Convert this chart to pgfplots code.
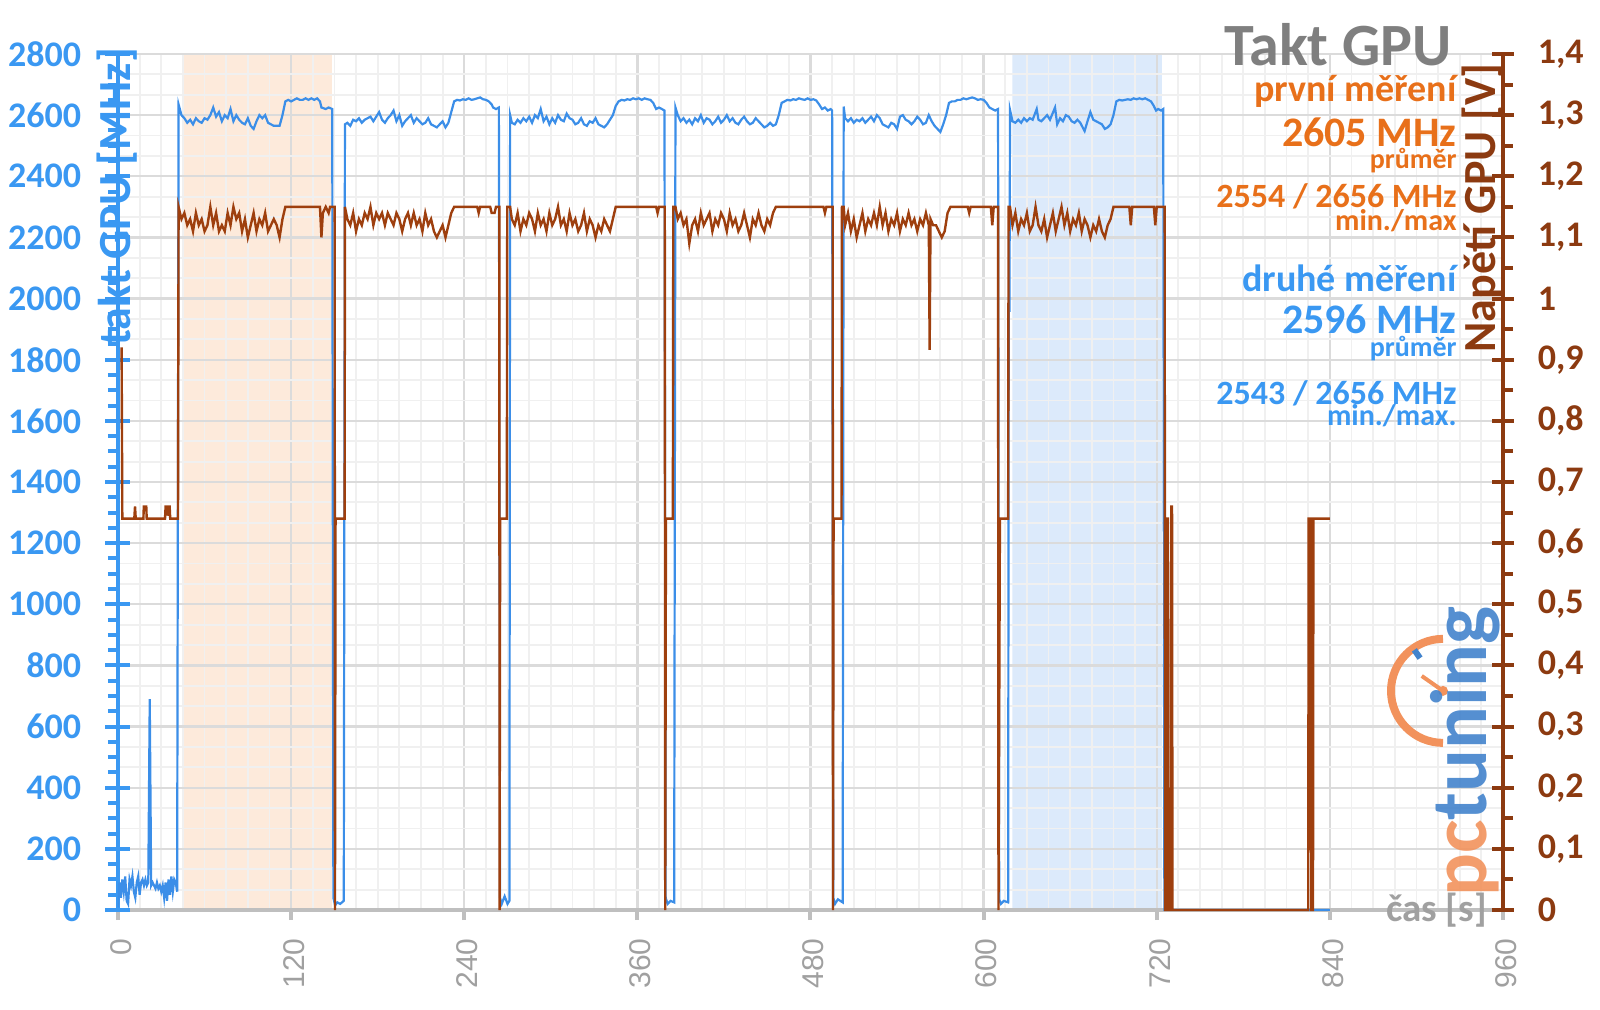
\documentclass[border=0pt]{standalone}
\usepackage{pgfplots}
\pgfplotsset{compat=1.18}
\usepackage{fontspec}
\setmainfont{Carlito}
\newfontfamily\arialf{Liberation Sans}
\definecolor{lblue}{HTML}{3A98F2}
\definecolor{dblue}{HTML}{3B8EE8}
\definecolor{abrown}{HTML}{8C3A10}
\definecolor{dbrown}{HTML}{9E3F0E}
\definecolor{aorange}{HTML}{E8701A}
\definecolor{tgrey}{HTML}{7F7F7F}
\definecolor{xgrey}{HTML}{A0A0A0}
\definecolor{shorange}{HTML}{FDEADB}
\definecolor{shblue}{HTML}{DCEAFB}
\definecolor{logoblue}{HTML}{4283CC}
\definecolor{logoorange}{HTML}{F2925C}
\pgfplotsset{every axis/.append style={scale only axis, width=692.5pt, height=428pt,
  at={(0,0)}, anchor=south west, xmin=0, xmax=960,
  /pgf/number format/assume math mode=true, /pgf/number format/1000 sep={}}}
\begin{document}
\begin{tikzpicture}
\useasboundingbox (-59pt,-49.5pt) rectangle (741pt,455pt);
% background: shaded windows and grid
\begin{axis}[ymin=0, ymax=2800, axis on top,
  axis x line*=bottom, axis y line*=left,
  x axis line style={-, draw=black!25, line width=2pt},
  y axis line style={draw=none},
  xtick={0,120,...,960}, minor x tick num=7,
  ytick={0,200,...,2800}, minor y tick num=2,
  tick pos=left, grid=both,
  major grid style={draw=black!14, line width=1.2pt},
  minor grid style={draw=black!6, line width=0.9pt},
  tick align=outside, major tick length=5pt, minor tick length=0pt,
  tick style={draw=black!25, line width=2pt},
  yticklabels={},
  xticklabel style={font=\arialf\fontsize{15}{15}\selectfont, text=xgrey, rotate=90, anchor=east, inner sep=0pt, yshift=-1.5pt, xshift=-9pt}]
\addplot[fill=shorange, draw=none] coordinates {(45,0)(45,2800)(148.3,2800)(148.3,0)} \closedcycle;
\addplot[fill=shblue, draw=none] coordinates {(620,0)(620,2800)(723.5,2800)(723.5,0)} \closedcycle;
\end{axis}
% left axis: GPU clock
\begin{axis}[ymin=0, ymax=2800, axis y line*=left, axis x line=none, ytick pos=left,
  ytick={0,200,...,2800}, minor y tick num=3,
  tick align=center, major tick length=12.5pt, minor tick length=5pt,
  y axis line style={-, draw=lblue, line width=2pt},
  tick style={draw=lblue, line width=2pt},
  minor tick style={xshift=-2.5pt},
  yticklabel style={font=\bfseries\fontsize{18}{18}\selectfont, text=lblue, anchor=east, inner sep=0pt, xshift=-12pt}]
\addplot[dblue, line width=1.1pt] coordinates {
(0,10)(1,90)(2,40)(3,100)(4,60)(5,110)(6,30)(7,20)(8,100)(9,80)(10,110)(11,60)(12,40)(13,90)(14,110)(15,50)(16,90)(17,100)(18,80)(19,100)(20,80)(21,90)(22,690)(23,80)(24,90)(25,80)(26,70)(27,90)(28,70)(29,80)(30,60)(31,80)(32,40)(33,90)(34,30)(35,100)(36,50)(37,110)(38,60)(39,100)(40,90)(41,60)
(42,2635)(44,2600)(46,2590)(48,2575)(50,2585)(52,2570)(54,2590)(56,2580)(58,2575)(60,2590)(62,2585)(64,2600)(66,2625)(68,2595)(70,2610)(72,2580)(74,2600)(76,2590)(78,2620)(80,2580)(82,2600)(84,2585)(86,2575)(88,2570)(90,2590)(92,2565)(94,2555)(96,2580)(98,2600)(100,2590)(102,2600)(104,2575)(106,2570)(108,2565)(110,2565)(112,2565)(114,2600)(116,2645)(118,2650)(120,2645)(122,2650)(124,2655)(126,2650)(128,2650)(130,2655)(132,2650)(134,2655)(136,2650)(138,2655)(140,2645)(141,2625)(144,2620)(146,2625)(148.5,2620)
(149.3,40)(150.5,15)(152,25)(154,20)(156.5,30)
(157.3,2570)(159,2575)(161,2565)(163,2585)(165,2580)(167,2590)(169,2575)(171,2585)(173,2590)(175,2595)(177,2580)(179,2595)(181,2610)(183,2585)(185,2575)(187,2590)(189,2600)(191,2615)(193,2580)(195,2600)(197,2565)(199,2580)(201,2590)(203,2600)(205,2575)(207,2590)(209,2580)(211,2570)(213,2575)(215,2590)(217,2570)(219,2565)(221,2560)(223,2570)(225,2580)(227,2560)(229,2575)(231,2610)(233,2645)(235,2650)(237,2648)(239,2652)(241,2650)(243,2655)(245,2650)(247,2652)(249,2655)(251,2658)(253,2652)(255,2650)(257,2645)(259,2635)(260,2625)(262,2620)(264,2625)
(264.8,40)(266,20)(268,45)(270,20)(271.3,30)
(271.8,2600)(273,2575)(275,2570)(277,2585)(279,2575)(281,2590)(283,2580)(285,2595)(287,2575)(289,2600)(291,2590)(293,2620)(295,2580)(297,2595)(299,2570)(301,2590)(303,2575)(305,2600)(307,2585)(309,2580)(311,2605)(313,2590)(315,2585)(317,2570)(319,2575)(321,2590)(323,2570)(325,2565)(327,2580)(329,2575)(331,2590)(333,2570)(335,2565)(337,2560)(339,2570)(341,2585)(343,2600)(345,2630)(347,2645)(349,2650)(351,2648)(353,2652)(355,2650)(357,2655)(359,2652)(361,2655)(363,2650)(365,2655)(367,2652)(369,2650)(371,2640)(373,2620)(375,2625)(377,2620)(378.8,2615)
(379.6,40)(381,20)(383,30)(385.5,25)
(386.4,2625)(388,2600)(390,2580)(392,2590)(394,2575)(396,2585)(398,2570)(400,2590)(402,2580)(404,2600)(406,2575)(408,2590)(410,2585)(412,2570)(414,2580)(416,2595)(418,2575)(420,2585)(422,2600)(424,2580)(426,2590)(428,2575)(430,2570)(432,2585)(434,2595)(436,2580)(438,2570)(440,2575)(442,2590)(444,2580)(446,2570)(448,2560)(450,2565)(452,2575)(454,2565)(456,2570)(458,2600)(460,2640)(462,2645)(464,2650)(466,2648)(468,2652)(470,2650)(472,2655)(474,2652)(476,2650)(478,2655)(480,2650)(482,2652)(484,2648)(486,2635)(488,2620)(490,2625)(492,2615)(494,2620)(495,2615)
(495.8,40)(497,20)(499,35)(502.3,25)
(503,2628)(504,2590)(506,2580)(508,2590)(510,2575)(512,2585)(514,2580)(516,2590)(518,2575)(520,2585)(522,2595)(524,2580)(526,2600)(528,2590)(530,2570)(532,2565)(534,2560)(536,2575)(538,2570)(540,2555)(542,2595)(544,2600)(546,2585)(548,2580)(550,2570)(552,2580)(554,2595)(556,2585)(558,2570)(560,2575)(562,2600)(564,2580)(566,2565)(568,2555)(570,2545)(572,2570)(574,2600)(576,2640)(578,2645)(580,2645)(582,2650)(584,2650)(586,2655)(588,2652)(590,2655)(592,2658)(594,2655)(596,2650)(598,2652)(600,2650)(602,2640)(604,2625)(606,2620)(608,2615)(610,2620)
(610.8,35)(612,20)(614,30)(617,25)(617.4,1960)(617.9,1960)
(618.3,2617)(620,2580)(622,2575)(624,2585)(626,2575)(628,2590)(630,2580)(632,2590)(634,2585)(636.8,2620)(638,2585)(640,2580)(642,2590)(644,2600)(646,2585)(649.5,2625)(651,2570)(653,2590)(655,2580)(657,2600)(659,2595)(661,2580)(663,2575)(665,2585)(667,2575)(670,2548)(672,2580)(674,2610)(676,2585)(678,2580)(680,2575)(682,2570)(684,2555)(686,2560)(688,2570)(690,2600)(692,2645)(694,2650)(696,2648)(698,2650)(700,2652)(702,2650)(704,2655)(706,2652)(708,2655)(710,2652)(712,2655)(714,2650)(716,2645)(718,2630)(719.5,2615)(721,2620)(723,2615)(724.5,2620)
(725.3,0)(840,0)};
\end{axis}
% right axis: GPU voltage
\begin{axis}[ymin=0, ymax=1.4, axis y line*=right, axis x line=none, ytick pos=right, clip=false,
  ytick={0,0.1,...,1.4}, minor y tick num=1,
  yticklabels={0,{0,1},{0,2},{0,3},{0,4},{0,5},{0,6},{0,7},{0,8},{0,9},1,{1,1},{1,2},{1,3},{1,4}},
  tick align=center, major tick length=10.5pt, minor tick length=5pt,
  y axis line style={-, draw=abrown, line width=2pt},
  tick style={draw=abrown, line width=2pt},
  minor tick style={xshift=2.5pt},
  yticklabel style={font=\bfseries\fontsize{18}{18}\selectfont, text=abrown, anchor=west, inner sep=0pt, xshift=12pt}]
% pctuning logo (watermark) behind the data
\draw[logoorange, line width=4pt] (rel axis cs:0.9567,0.256) ++(90:26pt) arc[start angle=90, end angle=270, radius=26pt];
\draw[logoorange, line width=2pt] (rel axis cs:0.9567,0.256) -- ++(145:13pt);
\fill[logoorange] (rel axis cs:0.9567,0.256) circle (2.5pt);
\draw[logoblue, line width=3pt] (rel axis cs:0.9567,0.256) ++(125:20pt) -- ++(125:5pt);
\node[rotate=90, inner sep=0pt, font=\bfseries\fontsize{40}{40}\selectfont, opacity=0.9] at (rel axis cs:0.973,0.185) {\textcolor{logoorange}{pc}\textcolor{logoblue}{tuning}};
\addplot[dbrown, line width=1.2pt] coordinates {
(2.5,0.92)(3,0.64)(11.3,0.64)(11.8,0.66)(12.3,0.64)(17.6,0.64)(17.9,0.66)(19.6,0.66)(19.9,0.64)(32.6,0.64)(33,0.66)(33.8,0.66)(34.3,0.645)(35,0.66)(35.8,0.66)(36.2,0.64)(41.6,0.64)
(42,1.15)(44,1.13)(46,1.14)(48,1.12)(50,1.13)(52,1.11)(54,1.14)(56,1.12)(58,1.13)(60,1.11)(62,1.12)(64,1.15)(66,1.12)(68,1.14)(70,1.11)(72,1.12)(74,1.11)(76,1.14)(78,1.12)(80,1.15)(82,1.13)(84,1.14)(86,1.11)(88,1.13)(90,1.10)(92,1.12)(94,1.14)(96,1.11)(98,1.13)(100,1.12)(102,1.14)(104,1.11)(106,1.12)(108,1.13)(110,1.12)(112,1.10)(114,1.13)(116,1.15)(140,1.15)(141,1.10)(142,1.14)(144,1.15)(146,1.14)(147,1.15)(150.2,1.15)
(150.4,0)(150.8,0.64)(157.1,0.64)
(157.3,1.15)(159,1.13)(161,1.12)(163,1.14)(165,1.11)(167,1.13)(169,1.12)(171,1.14)(173,1.13)(175,1.15)(177,1.12)(179,1.14)(181,1.13)(183,1.14)(185,1.12)(187,1.14)(189,1.13)(191,1.12)(193,1.14)(195,1.13)(197,1.11)(199,1.13)(201,1.14)(203,1.12)(205,1.14)(207,1.12)(209,1.13)(211,1.11)(213,1.14)(215,1.12)(217,1.13)(219,1.11)(221,1.10)(223,1.11)(225,1.12)(227,1.10)(229,1.12)(231,1.14)(233,1.15)(249,1.15)(250,1.14)(251,1.15)(258,1.15)(259,1.14)(261,1.14)(262,1.15)(264.3,1.15)
(264.5,0)(264.9,0.64)(269.5,0.64)
(269.8,1.15)(271.8,1.15)(273,1.13)(275,1.12)(277,1.14)(279,1.11)(281,1.13)(283,1.12)(285,1.14)(287,1.13)(289,1.11)(291,1.14)(293,1.12)(295,1.13)(297,1.11)(299,1.14)(301,1.12)(303,1.13)(305,1.15)(307,1.12)(309,1.13)(311,1.11)(313,1.14)(315,1.12)(317,1.13)(319,1.11)(321,1.12)(323,1.14)(325,1.11)(327,1.13)(329,1.12)(331,1.10)(333,1.12)(335,1.11)(337,1.13)(339,1.12)(341,1.11)(343,1.13)(345,1.15)(373,1.15)(374,1.14)(375,1.15)(379,1.15)
(379.3,0)(379.8,0.64)(384.6,0.64)
(384.9,1.15)(386.4,1.15)(388,1.13)(390,1.14)(392,1.12)(394,1.13)(396,1.09)(398,1.12)(400,1.13)(402,1.11)(404,1.14)(406,1.12)(408,1.13)(410,1.14)(412,1.11)(414,1.13)(416,1.12)(418,1.14)(420,1.13)(422,1.11)(424,1.14)(426,1.12)(428,1.13)(430,1.11)(432,1.12)(434,1.14)(436,1.12)(438,1.10)(440,1.13)(442,1.12)(444,1.14)(446,1.12)(448,1.11)(450,1.13)(452,1.12)(454,1.14)(456,1.15)(489,1.15)(490,1.14)(491,1.15)(495.4,1.15)
(495.6,0)(496,0.64)(501.5,0.64)
(501.8,1.15)(503,1.15)(504,1.12)(506,1.14)(508,1.11)(510,1.13)(512,1.10)(514,1.12)(516,1.14)(518,1.11)(520,1.13)(522,1.12)(524,1.14)(526,1.12)(528,1.15)(530,1.12)(532,1.14)(534,1.11)(536,1.13)(538,1.12)(540,1.14)(542,1.11)(544,1.13)(546,1.12)(548,1.14)(550,1.12)(552,1.13)(554,1.11)(556,1.13)(558,1.12)(560,1.14)(562,1.12)(562.6,0.916)(563.2,1.13)(565,1.12)(567,1.12)(569,1.11)(571,1.10)(573,1.11)(575,1.14)(577,1.15)(589,1.15)(590,1.14)(591,1.15)(605,1.15)(606,1.12)(607,1.15)(610,1.15)
(610.3,0)(611.3,0.64)(617,0.64)
(617.3,1.15)(618.3,1.15)(620,1.12)(622,1.14)(624,1.11)(626,1.13)(628,1.12)(630,1.14)(632,1.11)(634,1.12)(636,1.15)(638,1.12)(640,1.11)(642,1.13)(644,1.10)(646,1.12)(648,1.14)(650,1.11)(652,1.13)(654,1.15)(656,1.12)(658,1.14)(660,1.11)(662,1.13)(664,1.12)(666,1.14)(668,1.11)(670,1.13)(672,1.12)(674,1.10)(676,1.12)(678,1.11)(680,1.13)(682,1.11)(684,1.10)(686,1.12)(688,1.13)(690,1.15)(701,1.15)(702,1.12)(703,1.15)(718,1.15)(719,1.12)(720,1.15)(725.5,1.15)
(725.8,0)(726.5,0)(726.8,0.64)(727.8,0.64)(728.1,0)(729.8,0)(730.1,0.66)(730.6,0.66)(730.9,0)(825,0)(825.3,0.64)(826.8,0.64)(827.1,0)(828.3,0)(828.6,0.64)(840,0.64)};
% axis titles and annotations
\node[rotate=90, font=\bfseries\fontsize{23}{23}\selectfont, text=lblue] at (rel axis cs:-0.0007,0.833) {takt GPU [MHz]};
\node[rotate=90, font=\bfseries\fontsize{23}{23}\selectfont, text=abrown] at (rel axis cs:0.985,0.820) {Napětí GPU [V]};
\node[anchor=base east, inner sep=0pt, font=\bfseries\fontsize{30}{30}\selectfont, text=tgrey] at (rel axis cs:0.9632,0.987) {Takt GPU};
\node[anchor=base east, inner sep=0pt, font=\bfseries\fontsize{19}{19}\selectfont, text=aorange] at (rel axis cs:0.9668,0.945) {první měření};
\node[anchor=base east, inner sep=0pt, font=\bfseries\fontsize{21}{21}\selectfont, text=aorange] at (rel axis cs:0.9668,0.892) {2605 MHz};
\node[anchor=base east, inner sep=0pt, font=\bfseries\fontsize{14}{14}\selectfont, text=aorange] at (rel axis cs:0.9668,0.866) {průměr};
\node[anchor=base east, inner sep=0pt, font=\bfseries\fontsize{17}{17}\selectfont, text=aorange] at (rel axis cs:0.9668,0.821) {2554 / 2656 MHz};
\node[anchor=base east, inner sep=0pt, font=\bfseries\fontsize{15}{15}\selectfont, text=aorange] at (rel axis cs:0.9668,0.794) {min./max};
\node[anchor=base east, inner sep=0pt, font=\bfseries\fontsize{19}{19}\selectfont, text=lblue] at (rel axis cs:0.9668,0.722) {druhé měření};
\node[anchor=base east, inner sep=0pt, font=\bfseries\fontsize{21}{21}\selectfont, text=lblue] at (rel axis cs:0.9668,0.674) {2596 MHz};
\node[anchor=base east, inner sep=0pt, font=\bfseries\fontsize{14}{14}\selectfont, text=lblue] at (rel axis cs:0.9668,0.647) {průměr};
\node[anchor=base east, inner sep=0pt, font=\bfseries\fontsize{17}{17}\selectfont, text=lblue] at (rel axis cs:0.9668,0.591) {2543 / 2656 MHz};
\node[anchor=base east, inner sep=0pt, font=\bfseries\fontsize{15}{15}\selectfont, text=lblue] at (rel axis cs:0.9668,0.566) {min./max.};
\node[anchor=east, inner sep=0pt, font=\bfseries\fontsize{19.5}{19.5}\selectfont, text=xgrey] at (rel axis cs:0.9885,0) {čas [s]};
\end{axis}
\end{tikzpicture}
\end{document}
